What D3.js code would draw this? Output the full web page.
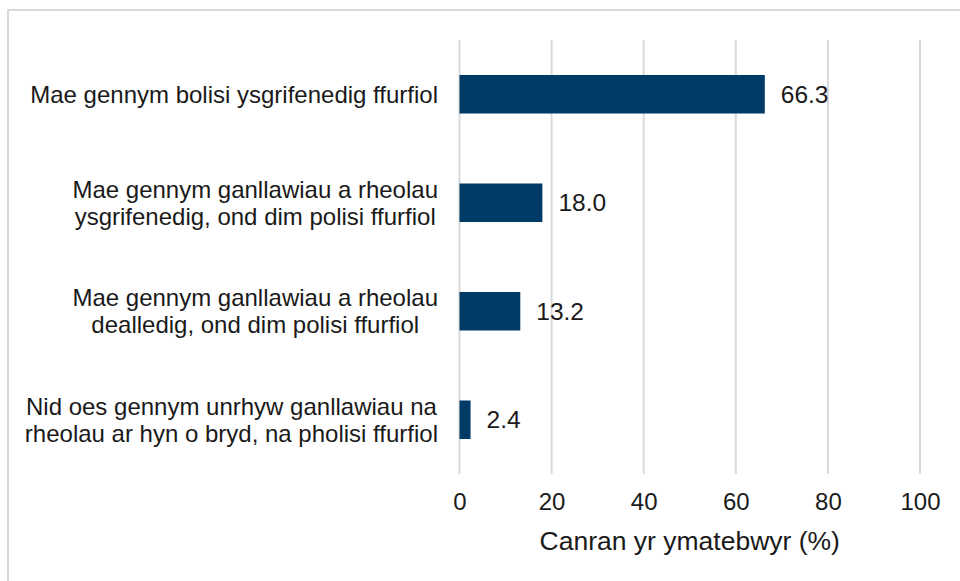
<!DOCTYPE html>
<html>
<head>
<meta charset="utf-8">
<title>Polisi - bar chart</title>
<style>
  body { margin: 0; background: #fff; }
  text { font-family: "Liberation Sans", Arial, sans-serif; fill: #1a1a1a; }
  .grid line { stroke: #d9d9d9; stroke-width: 2; }
  .bar { fill: #003a66; }
</style>
<script src="https://cdn.jsdelivr.net/npm/d3@7"></script>
</head>
<body>
<script>
// categories (top to bottom), split into lines as in the picture
var categories = [
  ["Mae gennym bolisi ysgrifenedig ffurfiol"],
  ["Mae gennym ganllawiau a rheolau", "ysgrifenedig, ond dim polisi ffurfiol"],
  ["Mae gennym ganllawiau a rheolau", "dealledig, ond dim polisi ffurfiol"],
  ["Nid oes gennym unrhyw ganllawiau na", "rheolau ar hyn o bryd, na pholisi ffurfiol"]
];
var values = [66.3, 18.0, 13.2, 2.4];
var xTicks = [0, 20, 40, 60, 80, 100];
var xTitle = "Canran yr ymatebwyr (%)";

var W = 960, H = 581;
var margin = {top: 40, right: 40, bottom: 107, left: 459.5};
var width = 920 - margin.left, height = H - margin.top - margin.bottom;
var fs = 24;

var svg = d3.select("body").append("svg")
  .attr("width", W).attr("height", H);

// outer frame (only top and left edges show)
svg.append("rect")
  .attr("x", 8).attr("y", 10)
  .attr("width", 1000).attr("height", 1000)
  .attr("fill", "none").attr("stroke", "#d9d9d9").attr("stroke-width", 2);

var g = svg.append("g")
  .attr("transform", "translate(" + margin.left + "," + margin.top + ")");

var x = d3.scaleLinear().domain([0, 100]).range([0, width]);
var y = d3.scaleBand()
  .domain(d3.range(categories.length))
  .range([0, height])
  .paddingInner(0.645).paddingOuter(0.3225);

// vertical gridlines
g.append("g").attr("class", "grid")
  .selectAll("line").data(xTicks).enter().append("line")
  .attr("x1", function(d) { return x(d); })
  .attr("x2", function(d) { return x(d); })
  .attr("y1", 0).attr("y2", height);

// bars
g.selectAll(".bar").data(values).enter().append("rect")
  .attr("class", "bar")
  .attr("x", x(0))
  .attr("y", function(d, i) { return y(i); })
  .attr("width", function(d) { return x(d) - x(0); })
  .attr("height", y.bandwidth());

// value labels
g.selectAll(".val").data(values).enter().append("text")
  .attr("class", "val")
  .attr("x", function(d) { return x(d) + 16; })
  .attr("y", function(d, i) { return y(i) + y.bandwidth() / 2; })
  .attr("dy", "0.35em")
  .style("font-size", "24.5px")
  .text(function(d) { return d.toFixed(1); });

// x axis tick labels (no axis line)
var xAxis = g.append("g")
  .attr("transform", "translate(0," + height + ")")
  .call(d3.axisBottom(x).tickValues(xTicks).tickSize(0).tickPadding(19));
xAxis.select(".domain").remove();
xAxis.selectAll("text")
  .style("font-size", fs + "px")
  .style("font-family", "'Liberation Sans', Arial, sans-serif")
  .attr("fill", "#1a1a1a");

// x axis title
g.append("text")
  .attr("x", width / 2)
  .attr("y", height + 67)
  .attr("dy", "0.35em")
  .attr("text-anchor", "middle")
  .style("font-size", "26.5px")
  .text(xTitle);

// category labels: centred lines, block right-aligned against the plot
var lh = 27, rightEdge = 438 - margin.left;
categories.forEach(function(lines, i) {
  var t = g.append("text")
    .attr("text-anchor", "middle")
    .style("font-size", fs + "px");
  var cy = y(i) + y.bandwidth() / 2;
  lines.forEach(function(s, j) {
    t.append("tspan")
      .attr("y", cy + (j - (lines.length - 1) / 2) * lh)
      .attr("dy", "0.35em")
      .text(s);
  });
  var maxW = 0;
  t.selectAll("tspan").each(function() {
    maxW = Math.max(maxW, this.getComputedTextLength());
  });
  t.selectAll("tspan").attr("x", rightEdge - maxW / 2);
});
</script>
</body>
</html>
